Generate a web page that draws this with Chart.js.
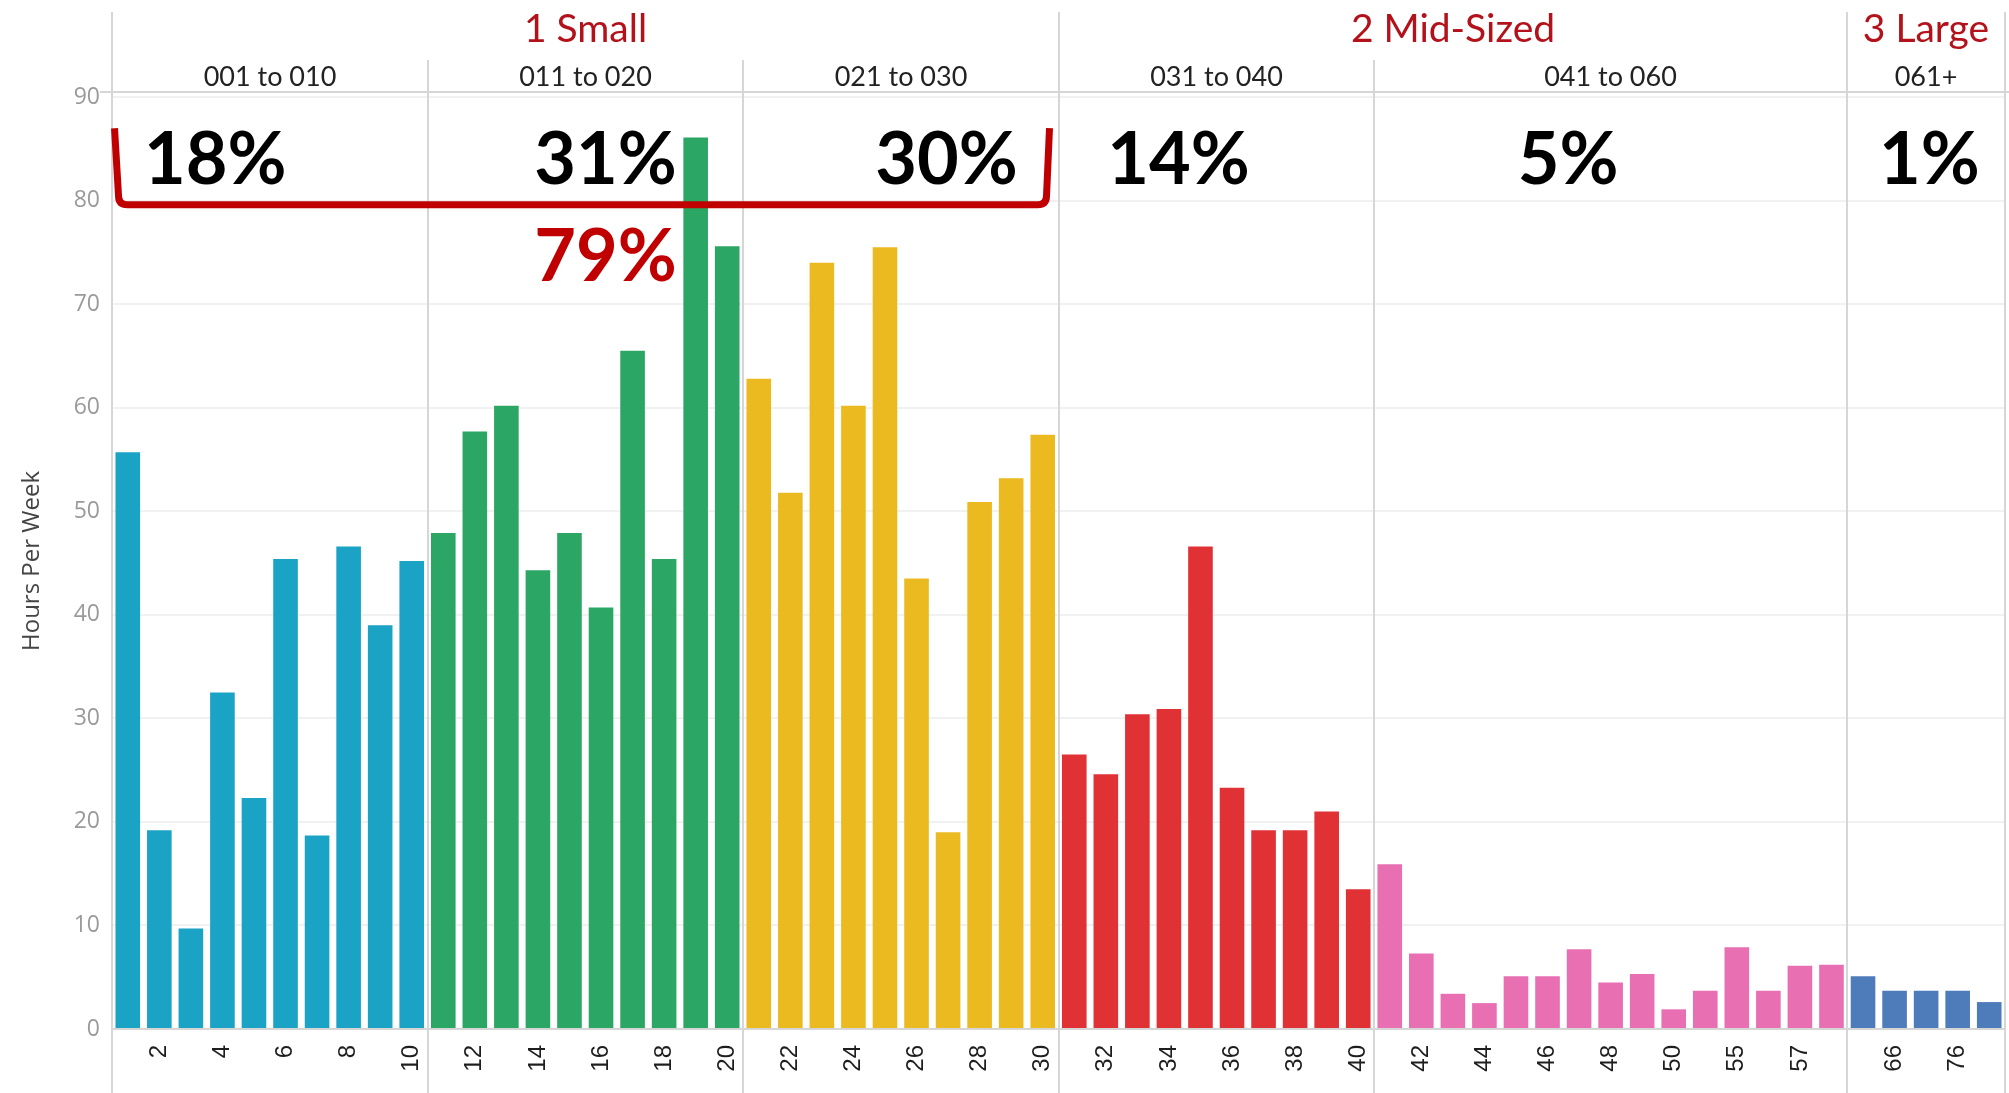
<!DOCTYPE html>
<html>
<head>
<meta charset="utf-8">
<script src="https://cdn.jsdelivr.net/npm/chart.js@4.4.1/dist/chart.umd.min.js"></script>
<style>
    html, body { margin: 0; padding: 0; background: #ffffff; }
    #wrap { width: 2009px; height: 1093px; }
</style>
</head>
<body>
<div id="wrap"><canvas id="hoursChart"></canvas></div>
<script>
// Employee-count bins (x axis)
const binLabels = [
    '1', '2', '3', '4', '5', '6', '7', '8', '9', '10',
    '11', '12', '13', '14', '15', '16', '17', '18', '19', '20',
    '21', '22', '23', '24', '25', '26', '27', '28', '29', '30',
    '31', '32', '33', '34', '35', '36', '37', '38', '39', '40',
    '41', '42', '43', '44', '45', '46', '47', '48', '49', '50', '52', '55', '56', '57', '59',
    '63', '66', '70', '76', '85'
];
// Hours per week for each bin
const hoursPerWeek = [
    55.7, 19.2, 9.7, 32.5, 22.3, 45.4, 18.7, 46.6, 39.0, 45.2,
    47.9, 57.7, 60.2, 44.3, 47.9, 40.7, 65.5, 45.4, 86.1, 75.6,
    62.8, 51.8, 74.0, 60.2, 75.5, 43.5, 19.0, 50.9, 53.2, 57.4,
    26.5, 24.6, 30.4, 30.9, 46.6, 23.3, 19.2, 19.2, 21.0, 13.5,
    15.9, 7.3, 3.4, 2.5, 5.1, 5.1, 7.7, 4.5, 5.3, 1.9, 3.7, 7.9, 3.7, 6.1, 6.2,
    5.1, 3.7, 3.7, 3.7, 2.6
];
// Tick labels that the axis actually prints
const shownTickLabels = [
    '2', '4', '6', '8', '10', '12', '14', '16', '18', '20',
    '22', '24', '26', '28', '30', '32', '34', '36', '38', '40',
    '42', '44', '46', '48', '50', '55', '57', '66', '76'
];
const yTicks = [0, 10, 20, 30, 40, 50, 60, 70, 80, 90];

// Header groups
const subGroupNames = ['001 to 010', '011 to 020', '021 to 030', '031 to 040', '041 to 060', '061+'];
const subGroupSizes = [10, 10, 10, 10, 15, 5];
const subGroupShares = ['18%', '31%', '30%', '14%', '5%', '1%'];
const sizeGroupNames = ['1 Small', '2 Mid-Sized', '3 Large'];
const sizeGroupSpans = [3, 2, 1];
const smallShare = '79%';

// styles
const subGroupColors = ['#1ba3c6', '#2ca664', '#ebb920', '#e03134', '#e76fb2', '#4e7bba'];
const DARK_RED = '#b3121b';
const BRACKET_RED = '#c00000';
const LINE_GRAY = '#d6d6d6';

// annotation anchors in (bar index, value) space
const shareAnchorX = [2.77, 15.14, 25.95, 33.3, 45.65, 57.1];
const shareAnchorY = 83.9;
const totalAnchor = { x: 15.14, y: 74.5 };
const bracket = { x0: -0.42, x1: 29.12, top: 87.0, bottom: 79.6 };

const barColors = [];
subGroupSizes.forEach((n, g) => { for (let i = 0; i < n; i++) barColors.push(subGroupColors[g]); });

function groupEdges(chart) {
    const x = chart.scales.x;
    const area = chart.chartArea;
    const edges = [area.left];
    let idx = 0;
    subGroupSizes.forEach(n => {
        idx += n;
        if (idx < binLabels.length) {
            edges.push(Math.round((x.getPixelForValue(idx - 1) + x.getPixelForValue(idx)) / 2));
        } else {
            edges.push(area.right);
        }
    });
    return edges;
}

const headerPlugin = {
    id: 'header',
    beforeDatasetsDraw(chart) {
        const { ctx, chartArea: area } = chart;
        const edges = groupEdges(chart);
        ctx.save();
        ctx.strokeStyle = LINE_GRAY;
        ctx.lineWidth = 2;

        // header bottom line
        ctx.beginPath();
        ctx.moveTo(area.left - 12, area.top - 1);
        ctx.lineTo(chart.width, area.top - 1);
        ctx.stroke();

        // vertical dividers: size-group borders run to the top, sub-group ones start lower
        const majorIdx = [0];
        let acc = 0;
        sizeGroupSpans.forEach(s => { acc += s; majorIdx.push(acc); });
        edges.forEach((ex, i) => {
            const top = majorIdx.includes(i) ? 12 : 60;
            ctx.beginPath();
            ctx.moveTo(ex, top);
            ctx.lineTo(ex, chart.height);
            ctx.stroke();
        });

        // header texts
        ctx.textAlign = 'center';
        ctx.textBaseline = 'middle';
        ctx.fillStyle = DARK_RED;
        ctx.font = '39px Lato';
        let start = 0;
        sizeGroupNames.forEach((name, i) => {
            const end = start + sizeGroupSpans[i];
            ctx.fillText(name, (edges[start] + edges[end]) / 2, 29);
            start = end;
        });
        ctx.fillStyle = '#222222';
        ctx.font = '27px Lato';
        subGroupNames.forEach((name, i) => {
            ctx.fillText(name, (edges[i] + edges[i + 1]) / 2, 77);
        });
        ctx.restore();
    },
    afterDatasetsDraw(chart) {
        const { ctx, scales: { x, y } } = chart;
        ctx.save();
        // red bracket around the small-business share
        const lx = x.getPixelForValue(bracket.x0);
        const rx = x.getPixelForValue(bracket.x1);
        const ty = y.getPixelForValue(bracket.top);
        const by = y.getPixelForValue(bracket.bottom);
        const r = 9;
        ctx.strokeStyle = BRACKET_RED;
        ctx.lineWidth = 7;
        ctx.lineJoin = 'round';
        ctx.beginPath();
        ctx.moveTo(lx, ty);
        ctx.lineTo(lx + 4, by - r);
        ctx.quadraticCurveTo(lx + 4, by, lx + 4 + r, by);
        ctx.lineTo(rx - r, by);
        ctx.quadraticCurveTo(rx, by, rx, by - r);
        ctx.lineTo(rx + 3, ty);
        ctx.stroke();

        // share labels
        ctx.textAlign = 'center';
        ctx.textBaseline = 'middle';
        ctx.font = 'bold 72px Lato';
        ctx.fillStyle = '#000000';
        subGroupShares.forEach((s, i) => {
            ctx.fillText(s, x.getPixelForValue(shareAnchorX[i]), y.getPixelForValue(shareAnchorY));
        });
        ctx.fillStyle = BRACKET_RED;
        ctx.fillText(smallShare, x.getPixelForValue(totalAnchor.x), y.getPixelForValue(totalAnchor.y));
        ctx.restore();
    }
};

new Chart(document.getElementById('hoursChart'), {
    type: 'bar',
    data: {
        labels: binLabels,
        datasets: [{
            data: hoursPerWeek,
            backgroundColor: barColors,
            borderWidth: 0,
            categoryPercentage: 1.0,
            barPercentage: 0.78
        }]
    },
    options: {
        responsive: true,
        maintainAspectRatio: false,
        animation: false,
        layout: { padding: { top: 93, right: 4, left: 0, bottom: 0 } },
        plugins: {
            legend: { display: false },
            tooltip: { enabled: false }
        },
        scales: {
            x: {
                grid: { display: false },
                border: { display: false },
                afterFit: s => {
                    s.height = 64;
                    s.paddingLeft = 0;
                    s.paddingRight = 0;
                },
                ticks: {
                    autoSkip: false,
                    minRotation: 90,
                    maxRotation: 90,
                    padding: 8,
                    color: '#1e1e1e',
                    font: { family: 'Liberation Sans', size: 24 },
                    callback: function(value) {
                        const lab = this.getLabelForValue(value);
                        return shownTickLabels.includes(lab) ? lab : '';
                    }
                }
            },
            y: {
                min: 0,
                max: 90.4,
                afterFit: s => { s.width = 112; },
                afterBuildTicks: s => { s.ticks = yTicks.map(v => ({ value: v })); },
                border: { display: false },
                grid: {
                    drawTicks: false,
                    lineWidth: 2,
                    color: ctx => ctx.tick && ctx.tick.value === 0 ? LINE_GRAY : '#f1f1f1'
                },
                ticks: {
                    padding: 12,
                    color: '#9a9a9a',
                    font: { family: 'Open Sans', size: 23 }
                },
                title: {
                    display: true,
                    text: 'Hours Per Week',
                    color: '#444444',
                    font: { family: 'Open Sans', size: 24 },
                    padding: { top: 18, bottom: 0 }
                }
            }
        }
    },
    plugins: [headerPlugin]
});
</script>
</body>
</html>
